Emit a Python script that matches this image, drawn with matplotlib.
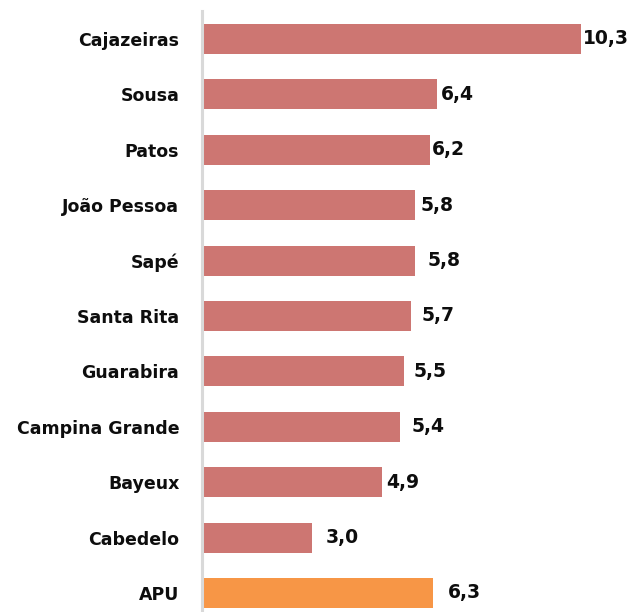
import matplotlib
matplotlib.use("Agg")
import matplotlib.pyplot as plt

categories = ["Cajazeiras", "Sousa", "Patos", "João Pessoa", "Sapé", "Santa Rita",
              "Guarabira", "Campina Grande", "Bayeux", "Cabedelo", "APU"]
values = [10.3, 6.4, 6.2, 5.8, 5.8, 5.7, 5.5, 5.4, 4.9, 3.0, 6.3]
value_labels = ["10,3", "6,4", "6,2", "5,8", "5,8", "5,7", "5,5", "5,4", "4,9", "3,0", "6,3"]
label_pad_px = [2, 4, 2, 6, 13, 10, 10, 11, 4, 14, 15]

colors = ["#CD7672"] * 10 + ["#F79646"]

plt.rcParams['font.family'] = ['DejaVu Sans']
W, H = 629, 612
fig = plt.figure(figsize=(W / 100, H / 100), dpi=100)
ax = fig.add_axes([201.5 / W, 0, (W - 201.5) / W, 1 - 11 / H])

pos = list(range(len(categories)))
ax.barh(pos, values, height=0.54, color=colors, zorder=2)
ax.set_ylim(10.343, -0.505)
ax.set_xlim(0, (W - 201.5) / 36.8)
ax.set_yticks(pos)
ax.set_yticklabels(categories, fontsize=12.5, fontweight='bold', color='#0d0d0d')
ax.tick_params(axis='y', length=0, pad=16)
ax.set_xticks([])
for s in ['top', 'right', 'bottom']:
    ax.spines[s].set_visible(False)
ax.spines['left'].set_color('#D9D9D9')
ax.spines['left'].set_linewidth(2.2)
ax.spines['left'].set_zorder(3)

for p, v, t, pad in zip(pos, values, value_labels, label_pad_px):
    ax.annotate(t, (v, p), xytext=(pad * 0.72, 0), textcoords='offset points',
                va='center', ha='left', fontsize=13.5, fontweight='bold', color='#0d0d0d')

fig.savefig("out.png", dpi=100)
